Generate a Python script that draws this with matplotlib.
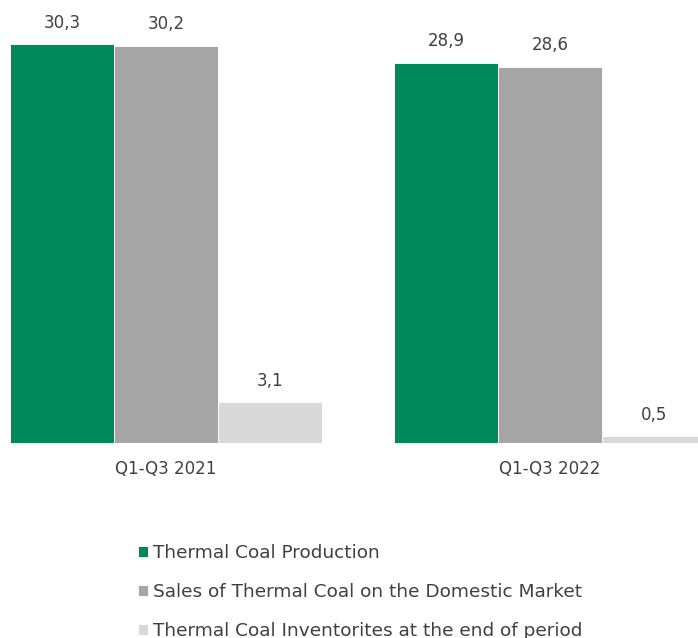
import matplotlib.pyplot as plt
import numpy as np

plt.rcParams['font.family'] = ['DejaVu Sans']

periods = ['Q1-Q3 2021', 'Q1-Q3 2022']
series_names = ['Thermal Coal Production',
                'Sales of Thermal Coal on the Domestic Market',
                'Thermal Coal Inventorites at the end of period']
production = [30.3, 28.9]
sales = [30.2, 28.6]
inventories = [3.1, 0.5]
colors = ['#00895a', '#a6a6a6', '#d9d9d9']
txt = '#404040'

fig = plt.figure(figsize=(6.98, 6.38), dpi=100)
ax = fig.add_axes([0, 0.3056, 1, 0.6944])

x = np.arange(len(periods))
w = 0.2708
bars = []
for i, (vals, c, name) in enumerate(zip([production, sales, inventories], colors, series_names)):
    b = ax.bar(x + (i - 1) * w, vals, w, color=c, edgecolor='white', linewidth=0.6, label=name)
    bars.append(b)
    for rect, v in zip(b, vals):
        ax.annotate(f'{v:.1f}'.replace('.', ','),
                    (rect.get_x() + rect.get_width() / 2, v),
                    xytext=(0, 9), textcoords='offset points',
                    ha='center', va='bottom', fontsize=12, color=txt)

ax.set_xlim(-0.432, 1.385)
ax.set_ylim(0, 33.66)
ax.set_yticks([])
ax.set_xticks(x)
ax.set_xticklabels(periods, fontsize=12, color=txt)
ax.tick_params(axis='x', length=0, pad=12)
for s in ax.spines.values():
    s.set_visible(False)

fig.legend(handles=bars, labels=series_names, loc='upper left',
           bbox_to_anchor=(138 / 698, 1 - 544 / 638), frameon=False,
           fontsize=13.3, labelcolor=txt, handlelength=0.55, handleheight=0.55,
           handletextpad=0.28, labelspacing=1.13, borderpad=0, borderaxespad=0)

fig.savefig('out.png', dpi=100)
